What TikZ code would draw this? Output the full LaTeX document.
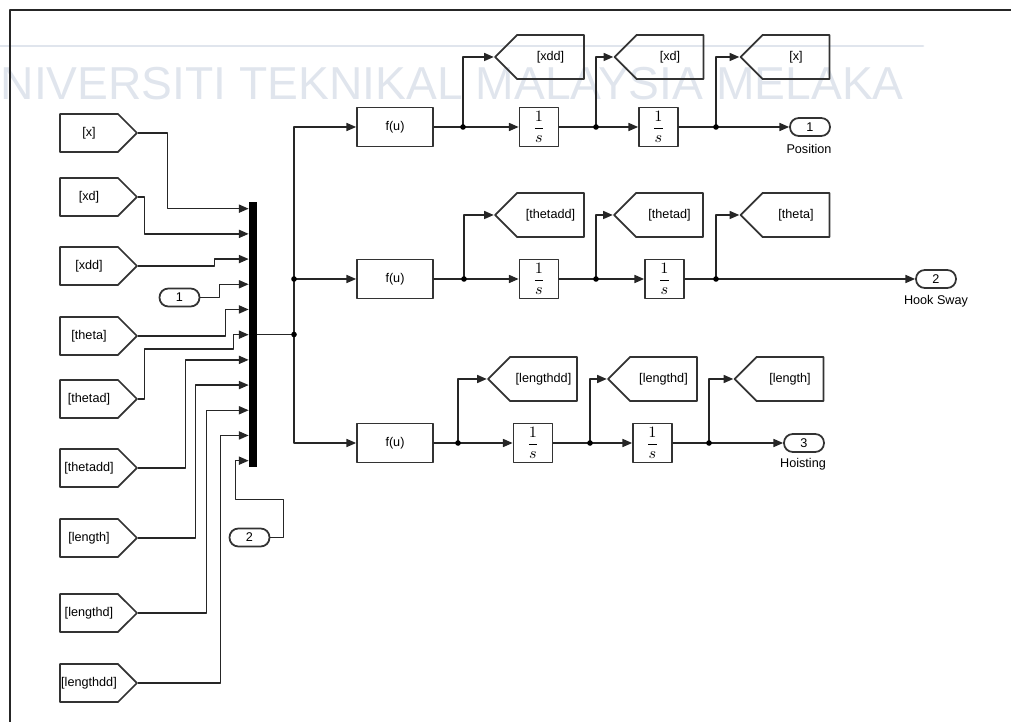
\documentclass[tikz,border=0pt]{standalone}
\usepackage{fontspec}
\setmainfont{Liberation Sans}
\usetikzlibrary{arrows.meta,shapes.symbols,calc}
\definecolor{wmgray}{RGB}{224,229,237}

\begin{document}
\begin{tikzpicture}[x=0.02cm,y=-0.02cm,line cap=round,line join=round,
  font=\fontsize{7.2}{8}\selectfont,
  line/.style={line width=0.75pt,draw=black!85},
  wire/.style={line,-{Triangle[length=5.5pt,width=4.6pt]}},
  blk/.style={draw=black!80,line width=1pt,minimum height=0.78cm,inner sep=0pt},
  fcn/.style={blk,minimum width=1.52cm},
  integ/.style={blk,minimum width=0.78cm,font=\fontsize{9}{10}\selectfont},
  goto/.style={draw=black!80,line width=1pt,shape=signal,signal to=west,
    signal pointer angle=90,text width=1.34cm,align=center,minimum height=0.88cm,inner sep=0pt},
  from/.style={draw=black!80,line width=1pt,shape=signal,signal to=east,
    signal pointer angle=90,text width=1.16cm,align=center,minimum height=0.76cm,inner sep=0pt},
  port/.style={draw=black!80,line width=1pt,rounded corners=5pt,minimum width=0.8cm,
    minimum height=0.36cm,inner sep=0pt}]
  \useasboundingbox (0,0) rectangle (1011,722);

  % watermark
  \draw[wmgray,line width=1.6pt] (0,46) -- (923,46);
  \node[anchor=base west,inner sep=0pt,text=wmgray,font=\fontsize{26.3}{26}\selectfont] (wm) at (-33,100) {UNIVERSITI TEKNIKAL MALAYSIA MELAKA};

  % frame
  \draw[line width=1.5pt,black!85] (10,722) -- (10,10) -- (1011,10);

  % sources
  \node[from] (fx) at (89,133) {[x]};
  \node[from] (fxd) at (89,197) {[xd]};
  \node[from] (fxdd) at (89,266) {[xdd]};
  \node[port] (in1) at (179.5,297.5) {1};
  \node[from] (fth) at (89,336) {[theta]};
  \node[from] (fthd) at (89,399) {[thetad]};
  \node[from] (fthdd) at (89,468) {[thetadd]};
  \node[from] (fl) at (89,538) {[length]};
  \node[from] (fld) at (89,613) {[lengthd]};
  \node[from] (fldd) at (89,683) {[lengthdd]};
  \node[port] (in2) at (249.5,537.5) {2};

  % mux
  \node[fill=black,minimum width=0.16cm,minimum height=5.3cm,inner sep=0pt] (mux) at (253,334.5) {};
  \foreach \i in {1,...,11}
    \coordinate (m\i) at ($(mux.north west)+(0,7+25.2*\i-25.2)$);

  \draw[wire] (fx.east) -- ++(29,0) |- (m1);
  \draw[wire] (fxd.east) -- ++(6,0) |- (m2);
  \draw[wire] (fxdd.east) -- ++(76,0) |- (m3);
  \draw[wire] (in1.east) -- ++(19,0) |- (m4);
  \draw[wire] (fth.east) -- ++(87,0) |- (m5);
  \draw[wire] (fthd.east) -- ++(6,0) -- ++(0,-50) -- ++(89,0) |- (m6);
  \draw[wire] (fthdd.east) -- ++(47,0) |- (m7);
  \draw[wire] (fl.east) -- ++(57,0) |- (m8);
  \draw[wire] (fld.east) -- ++(68,0) |- (m9);
  \draw[wire] (fldd.east) -- ++(82,0) |- (m10);
  \draw[wire] (in2.east) -- ++(13,0) -- ++(0,-38) -- ++(-48,0) |- (m11);

  % bus to the three f(u) blocks
  \node[fcn] (fu1) at (395,127) {f(u)};
  \node[fcn] (fu2) at (395,279) {f(u)};
  \node[fcn] (fu3) at (395,443) {f(u)};
  \coordinate (j0) at (294,334.5);
  \coordinate (j1) at (294,279);
  \draw[line] (mux.east) -- (j0);
  \draw[wire] (j0) |- (fu1);
  \draw[wire] (j0) |- (fu3);
  \draw[wire] (j1) -- (fu2);
  \fill (j0) circle (1.6pt);
  \fill (j1) circle (1.6pt);

  % row 1
  \node[integ] (i1a) at (539,127) {$\displaystyle\frac{1}{s}$};
  \node[integ] (i1b) at (658.5,127) {$\displaystyle\frac{1}{s}$};
  \node[port] (out1) at (810,127) {1};
  \node (lpos) at (809,149) {Position};
  \node[goto] (gxdd) at (550.5,57) {[xdd]};
  \node[goto] (gxd) at (670,57) {[xd]};
  \node[goto] (gx) at (796,57) {[x]};
  \coordinate (a1) at (463,127);
  \coordinate (b1) at (596,127);
  \coordinate (c1) at (716,127);
  \draw[wire] (fu1) -- (i1a);
  \draw[wire] (i1a) -- (i1b);
  \draw[wire] (i1b) -- (out1);
  \draw[wire] (a1) |- (gxdd);
  \draw[wire] (b1) |- (gxd);
  \draw[wire] (c1) |- (gx);
  \foreach \p in {a1,b1,c1} \fill (\p) circle (1.6pt);

  % row 2
  \node[integ] (i2a) at (539,279) {$\displaystyle\frac{1}{s}$};
  \node[integ] (i2b) at (664.5,279) {$\displaystyle\frac{1}{s}$};
  \node[port] (out2) at (936,279) {2};
  \node (lsway) at (936,301) {Hook Sway};
  \node[goto] (gthdd) at (550.5,215) {[thetadd]};
  \node[goto] (gthd) at (669.5,215) {[thetad]};
  \node[goto] (gth) at (796,215) {[theta]};
  \coordinate (a2) at (464,279);
  \coordinate (b2) at (596,279);
  \coordinate (c2) at (716,279);
  \draw[wire] (fu2) -- (i2a);
  \draw[wire] (i2a) -- (i2b);
  \draw[wire] (i2b) -- (out2);
  \draw[wire] (a2) |- (gthdd);
  \draw[wire] (b2) |- (gthd);
  \draw[wire] (c2) |- (gth);
  \foreach \p in {a2,b2,c2} \fill (\p) circle (1.6pt);

  % row 3
  \node[integ] (i3a) at (533,443) {$\displaystyle\frac{1}{s}$};
  \node[integ] (i3b) at (652.5,443) {$\displaystyle\frac{1}{s}$};
  \node[port] (out3) at (804,443) {3};
  \node (lhoist) at (803,464) {Hoisting};
  \node[goto] (gldd) at (543.5,379) {[lengthdd]};
  \node[goto] (gld) at (663.5,379) {[lengthd]};
  \node[goto] (gl) at (790,379) {[length]};
  \coordinate (a3) at (458,443);
  \coordinate (b3) at (590,443);
  \coordinate (c3) at (709,443);
  \draw[wire] (fu3) -- (i3a);
  \draw[wire] (i3a) -- (i3b);
  \draw[wire] (i3b) -- (out3);
  \draw[wire] (a3) |- (gldd);
  \draw[wire] (b3) |- (gld);
  \draw[wire] (c3) |- (gl);
  \foreach \p in {a3,b3,c3} \fill (\p) circle (1.6pt);
\end{tikzpicture}
\end{document}
